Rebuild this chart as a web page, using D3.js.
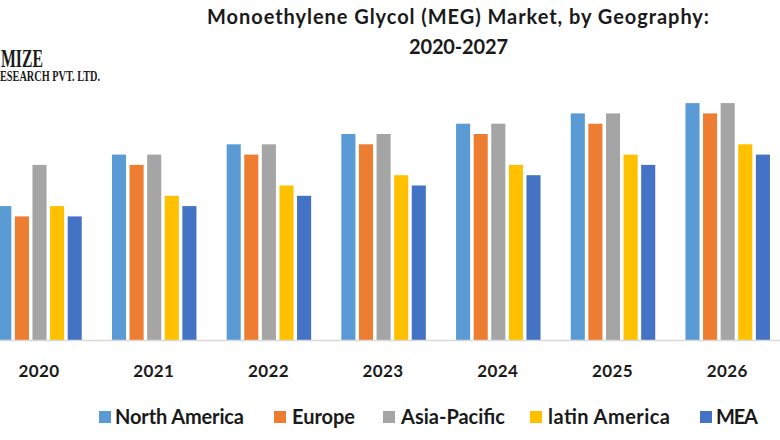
<!DOCTYPE html>
<html>
<head>
<meta charset="utf-8">
<script src="https://cdn.jsdelivr.net/npm/d3@7"></script>
<style>
  html, body { margin: 0; padding: 0; background: #fff; }
  svg { display: block; }
  text { font-family: Lato, "Open Sans", sans-serif; fill: #1a1a1a; }
</style>
</head>
<body>
<div id="chart"></div>
<script>
const years = ['2020', '2021', '2022', '2023', '2024', '2025', '2026'];
const seriesNames = ['North America', 'Europe', 'Asia-Pacific', 'latin America', 'MEA'];

const northAmerica = [13, 18, 19, 20, 21, 22, 23];
const europe = [12, 17, 18, 19, 20, 21, 22];
const asiaPacific = [17, 18, 19, 20, 21, 22, 23];
const latinAmerica = [13, 14, 15, 16, 17, 18, 19];
const mea = [12, 13, 14, 15, 16, 17, 18];

const seriesValues = [northAmerica, europe, asiaPacific, latinAmerica, mea];
const colors = ['#5B9BD5', '#ED7D31', '#A5A5A5', '#FFC000', '#4472C4'];

const width = 780;
const height = 440;
const baseline = 340;

const svg = d3.select('#chart')
  .append('svg')
  .attr('width', width)
  .attr('height', height);

// the picture is cropped, so the band range runs past both edges
const x = d3.scaleBand().domain(years).range([-18.35, 784.55]);
const inner = d3.scaleBand().domain(seriesNames).range([-43.5, 44.5]).paddingInner(0.2).paddingOuter(0.1);
const y = d3.scaleLinear().domain([0, 23]).range([baseline, 103.1]);

// bars
svg.append('g')
  .selectAll('g')
  .data(seriesNames)
  .enter()
  .append('g')
  .attr('fill', (d, i) => colors[i])
  .selectAll('rect')
  .data((d, i) => seriesValues[i].map((v, j) => ({ name: d, year: years[j], value: v })))
  .enter()
  .append('rect')
  .attr('x', d => x(d.year) + x.bandwidth() / 2 + inner(d.name))
  .attr('y', d => y(d.value))
  .attr('width', inner.bandwidth())
  .attr('height', d => y(0) - y(d.value));

// x axis
svg.append('g')
  .attr('transform', 'translate(0,' + baseline + ')')
  .call(d3.axisBottom(x).tickSize(0).tickPadding(25))
  .call(g => g.select('.domain').attr('stroke', '#d9d9d9').attr('stroke-width', 1.5))
  .call(g => g.selectAll('.tick text')
    .attr('font-family', 'Lato, sans-serif')
    .attr('font-size', 17)
    .attr('font-weight', 700)
    .style('letter-spacing', '0.4px'));

// title
const title = svg.append('g')
  .attr('font-size', 20)
  .attr('font-weight', 700);
title.append('text')
  .attr('x', 207).attr('y', 24)
  .attr('textLength', 502)
  .text('Monoethylene Glycol (MEG) Market, by Geography:');
title.append('text')
  .attr('x', 409).attr('y', 54)
  .attr('textLength', 99)
  .text('2020-2027');

// logo, cut off by the left edge
const logo = svg.append('g').attr('font-weight', 700);
logo.append('text')
  .attr('x', 1).attr('y', 67)
  .attr('textLength', 42).attr('lengthAdjust', 'spacingAndGlyphs')
  .style('font-family', '"Liberation Serif", serif')
  .style('font-size', '25px')
  .text('MIZE');
logo.append('text')
  .attr('x', 0).attr('y', 81)
  .attr('textLength', 100).attr('lengthAdjust', 'spacingAndGlyphs')
  .style('font-family', '"Liberation Serif", serif')
  .style('font-size', '14px')
  .text('ESEARCH PVT. LTD.');

// legend
const legendX = [99, 274, 383, 530, 700];
const legendText = [115, 292, 401, 548, 716];
const legendWidth = [129, 63, 104, 122, 42];
const legend = svg.append('g')
  .selectAll('g')
  .data(seriesNames)
  .enter()
  .append('g');
legend.append('rect')
  .attr('x', (d, i) => legendX[i])
  .attr('y', 411)
  .attr('width', 12)
  .attr('height', 12)
  .attr('fill', (d, i) => colors[i]);
legend.append('text')
  .attr('x', (d, i) => legendText[i])
  .attr('y', 424)
  .attr('font-size', 20)
  .attr('font-weight', 700)
  .attr('textLength', (d, i) => legendWidth[i])
  .text(d => d);
</script>
</body>
</html>
